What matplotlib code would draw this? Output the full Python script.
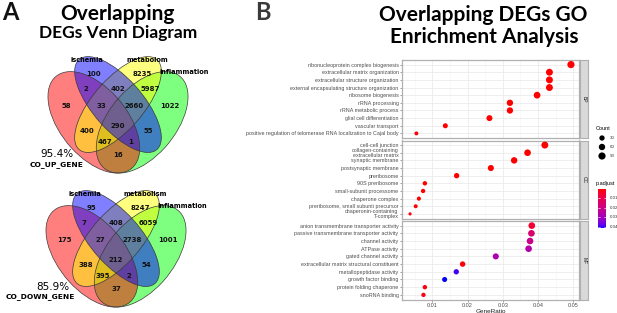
import numpy as np
import matplotlib
matplotlib.use("Agg")
import matplotlib.pyplot as plt
from matplotlib.patches import Ellipse
from matplotlib.colors import ListedColormap

W, H = 617, 313
fig = plt.figure(figsize=(W / 100, H / 100), dpi=100)
fig.patch.set_facecolor("white")

# ---------------- data ----------------
venn_sets = ["ischemia", "metabolom", "inflammation"]
venn_sets_down = ["ischemia", "metabolism", "Inflammation"]
regions = ["R", "B", "Y", "G", "RB", "BY", "YG", "RG", "RBY", "BYG", "RY", "BG", "RYG", "RBG", "RBYG"]
up_counts = [58, 100, 8235, 1022, 2, 402, 5987, 16, 33, 2660, 400, 55, 467, 1, 290]
down_counts = [175, 95, 8247, 1001, 7, 408, 6059, 37, 27, 2738, 388, 54, 395, 2, 212]
up_pct, up_name = "95.4%", "CO_UP_GENE"
down_pct, down_name = "85.9%", "CO_DOWN_GENE"

bp_terms = ["ribonucleoprotein complex biogenesis", "extracellular matrix organization",
            "extracellular structure organization", "external encapsulating structure organization",
            "ribosome biogenesis", "rRNA processing", "rRNA metabolic process",
            "glial cell differentiation", "vascular transport",
            "positive regulation of telomerase RNA localization to Cajal body"]
bp_ratio = [0.0493, 0.0432, 0.0432, 0.0432, 0.0397, 0.0320, 0.0320, 0.0262, 0.0137, 0.0055]
bp_count = [91, 80, 80, 80, 73, 59, 59, 48, 25, 10]
bp_padj = [1e-9, 1e-8, 1e-8, 1e-8, 1e-8, 1e-7, 1e-7, 1e-6, 2e-4, 5e-4]

cc_terms = ["cell-cell junction", "collagen-containing\nextracellular matrix", "synaptic membrane",
            "postsynaptic membrane", "preribosome", "90S preribosome", "small-subunit processome",
            "chaperone complex", "preribosome, small subunit precursor",
            "chaperonin-containing\nT-complex"]
cc_ratio = [0.0419, 0.0370, 0.0332, 0.0266, 0.0169, 0.0079, 0.0074, 0.0062, 0.0053, 0.0037]
cc_count = [80, 70, 63, 51, 32, 15, 14, 12, 10, 7]
cc_padj = [1e-6, 1e-6, 2e-5, 5e-5, 1e-5, 1e-6, 1e-6, 2e-4, 3e-4, 5e-4]

mf_terms = ["anion transmembrane transporter activity", "passive transmembrane transporter activity",
            "channel activity", "ATPase activity", "gated channel activity",
            "extracellular matrix structural constituent", "metallopeptidase activity",
            "growth factor binding", "protein folding chaperone", "snoRNA binding"]
mf_ratio = [0.0382, 0.0381, 0.0377, 0.0373, 0.0280, 0.0186, 0.0168, 0.0135, 0.0079, 0.0075]
mf_count = [70, 70, 69, 68, 51, 34, 31, 25, 15, 14]
mf_padj = [0.0055, 0.0160, 0.0205, 0.0260, 0.0275, 0.0008, 0.0395, 0.0412, 0.0012, 0.0015]

ontologies = ["BP", "CC", "MF"]
size_breaks = [30, 60, 90]
padj_breaks = [0.01, 0.02, 0.03, 0.04]
xticks = [0.01, 0.02, 0.03, 0.04, 0.05]


# ---------------- helpers ----------------
def rect(x0, y0, x1, y1):
    return [x0 / W, 1 - y1 / H, (x1 - x0) / W, (y1 - y0) / H]


def ftext(x, y, s, **kw):
    fig.text(x / W, 1 - y / H, s, **kw)


def srgb_to_lab(c):
    c = np.asarray(c, float)
    lin = np.where(c <= 0.04045, c / 12.92, ((c + 0.055) / 1.055) ** 2.4)
    M = np.array([[0.4124, 0.3576, 0.1805], [0.2126, 0.7152, 0.0722], [0.0193, 0.1192, 0.9505]])
    xyz = M @ lin / np.array([0.95047, 1.0, 1.08883])
    f = np.where(xyz > 0.008856, np.cbrt(xyz), 7.787 * xyz + 16 / 116)
    return np.array([116 * f[1] - 16, 500 * (f[0] - f[1]), 200 * (f[1] - f[2])])


def lab_to_srgb(lab):
    L, a, b = lab
    fy = (L + 16) / 116
    fx = fy + a / 500
    fz = fy - b / 200
    f = np.array([fx, fy, fz])
    xyz = np.where(f ** 3 > 0.008856, f ** 3, (f - 16 / 116) / 7.787) * np.array([0.95047, 1.0, 1.08883])
    Mi = np.array([[3.2406, -1.5372, -0.4986], [-0.9689, 1.8758, 0.0415], [0.0557, -0.2040, 1.0570]])
    lin = Mi @ xyz
    lin = np.clip(lin, 0, 1)
    c = np.where(lin <= 0.0031308, 12.92 * lin, 1.055 * lin ** (1 / 2.4) - 0.055)
    return np.clip(c, 0, 1)


lab_lo = srgb_to_lab([1, 0, 0])
lab_hi = srgb_to_lab([0, 0, 1])
cmap = ListedColormap([lab_to_srgb(lab_lo + (lab_hi - lab_lo) * t) for t in np.linspace(0, 1, 256)])

# ---------------- titles ----------------
TF = "Lato"
ftext(2, 12, "A", fontsize=17, fontweight="bold", family=TF, va="center", ha="left", color="#111111")
ftext(255, 12, "B", fontsize=17, fontweight="bold", family=TF, va="center", ha="left", color="#3a3a3a")
ftext(117, 14, "Overlapping", fontsize=15, fontweight="bold", family=TF, ha="center", va="center")
ftext(118, 33, "DEGs Venn Diagram", fontsize=12.5, fontweight="bold", family=TF, ha="center", va="center")
ftext(483, 15, "Overlapping DEGs GO", fontsize=15, fontweight="bold", family=TF, ha="center", va="center")
ftext(484, 37, "Enrichment Analysis", fontsize=15, fontweight="bold", family=TF, ha="center", va="center")

# ---------------- Venn diagrams ----------------
label_pos = {"R": (0.18, 0.56), "B": (0.35, 0.74), "Y": (0.65, 0.74), "G": (0.82, 0.56),
             "RB": (0.30, 0.66), "BY": (0.5, 0.655), "YG": (0.70, 0.66), "RG": (0.5, 0.285),
             "RBY": (0.40, 0.56), "BYG": (0.60, 0.56), "RY": (0.31, 0.42), "BG": (0.69, 0.42),
             "RYG": (0.42, 0.362), "RBG": (0.58, 0.362), "RBYG": (0.5, 0.449)}
# drawing order: green, red, yellow, blue
ell_geom = [((0.65, 0.47), 0.70, 0.40, 45, "#00ff00"),
            ((0.35, 0.47), 0.70, 0.40, -45, "#ff0000"),
            ((0.50, 0.57), 0.70, 0.30, 45, "#ffff00"),
            ((0.50, 0.57), 0.70, 0.30, -45, "#0000ff")]
SX, SY = 161.0, 178.0
XL, YL = (-0.2, 1.2), (0.15, 0.95)
VF = "DejaVu Sans"


def draw_venn(cx, y0, counts, names, pct, gname, pct_xy, name_xy):
    x0 = cx + SX * (XL[0] - 0.5)
    x1 = cx + SX * (XL[1] - 0.5)
    ytop = y0 - SY * YL[1]
    ybot = y0 - SY * YL[0]
    ax = fig.add_axes(rect(x0, ytop, x1, ybot))
    ax.set_xlim(*XL)
    ax.set_ylim(*YL)
    ax.axis("off")
    for (xy, w, h, ang, col) in ell_geom:
        ax.add_patch(Ellipse(xy, w, h, angle=ang, facecolor=col, alpha=0.5, edgecolor="none", clip_on=False))
    for (xy, w, h, ang, col) in ell_geom:
        ax.add_patch(Ellipse(xy, w, h, angle=ang, facecolor="none", edgecolor="#3a3a3a", lw=0.5, clip_on=False))
    for r, c in zip(regions, counts):
        u, v = label_pos[r]
        ax.text(u, v, str(c), fontsize=5.0, fontweight="bold", ha="center", va="center",
                family=VF, color="#111111")
    ax.text(0.31, 0.818, names[0], fontsize=4.8, fontweight="bold", ha="center", va="center", family=VF)
    ax.text(0.68, 0.818, names[1], fontsize=4.8, fontweight="bold", ha="center", va="center", family=VF)
    ax.text(0.91, 0.75, names[2], fontsize=4.8, fontweight="bold", ha="center", va="center", family=VF)
    ax.text(pct_xy[0], pct_xy[1], pct, fontsize=7.5, ha="center", va="center", family=VF)
    ax.text(name_xy[0], name_xy[1], gname, fontsize=5.4, fontweight="bold", ha="center", va="center",
            family=VF)


draw_venn(118, 206, up_counts, venn_sets, up_pct, up_name, (0.121, 0.29), (0.121, 0.232))
draw_venn(116, 340, down_counts, venn_sets_down, down_pct, down_name, (0.11, 0.298), (0.03, 0.242))

# ---------------- GO dot plot ----------------
all_ratio = bp_ratio + cc_ratio + mf_ratio
all_count = bp_count + cc_count + mf_count
all_padj = bp_padj + cc_padj + mf_padj
rmin, rmax = min(all_ratio), max(all_ratio)
xlim = (rmin - 0.05 * (rmax - rmin), rmax + 0.05 * (rmax - rmin))
cmin, cmax = min(all_count), max(all_count)
pmin, pmax = min(all_padj), max(all_padj)


def size_of(c):
    c = np.asarray(c, float)
    d_px = 3.2 + 4.0 * np.sqrt(np.clip((c - cmin) / (cmax - cmin), 0, 1))
    return (d_px * 72 / 100) ** 2


panels = [(bp_terms, bp_ratio, bp_count, bp_padj, 60, 138),
          (cc_terms, cc_ratio, cc_count, cc_padj, 140.5, 218.5),
          (mf_terms, mf_ratio, mf_count, mf_padj, 221, 299.5)]
PX0, PX1 = 402, 579
grid_c = "#EBEBEB"
for i, (terms, ratio, count, padj, ya, yb) in enumerate(panels):
    ax = fig.add_axes(rect(PX0, ya, PX1, yb))
    n = len(terms)
    ypos = np.arange(n)
    ax.set_xlim(*xlim)
    ax.set_ylim(n - 1 + 0.6, -0.6)
    ax.set_xticks(xticks)
    ax.set_xticks([0.005, 0.015, 0.025, 0.035, 0.045], minor=True)
    ax.set_yticks(ypos)
    ax.set_yticklabels(terms, fontsize=3.9, color="#4D4D4D", linespacing=0.85, family="Liberation Sans")
    for xv in xticks:
        ax.axvline(xv, color=grid_c, lw=0.6, zorder=0)
    for xv in [0.005, 0.015, 0.025, 0.035, 0.045]:
        ax.axvline(xv, color="#F3F3F3", lw=0.4, zorder=0)
    for yv in ypos:
        ax.axhline(yv, color=grid_c, lw=0.6, zorder=0)
    ax.scatter(ratio, ypos, s=size_of(count), c=padj, cmap=cmap, vmin=pmin, vmax=pmax,
               edgecolors="none", zorder=3)
    for sp in ax.spines.values():
        sp.set_color("#B0B0B0")
        sp.set_linewidth(0.9)
    ax.tick_params(axis="y", length=1.5, width=0.4, color="#555555", pad=1)
    ax.tick_params(axis="x", which="minor", length=0)
    if i < 2:
        ax.tick_params(axis="x", which="major", length=0, labelbottom=False)
    else:
        ax.tick_params(axis="x", which="major", length=1.5, width=0.4, color="#555555", pad=1,
                       labelsize=4.0, labelcolor="#4D4D4D")
        for lab in ax.get_xticklabels():
            lab.set_family("Liberation Sans")
        ax.set_xlabel("GeneRatio", fontsize=4.6, labelpad=0.5, family="Liberation Sans", color="#222222")
    # strip
    sax = fig.add_axes(rect(PX1 + 1, ya, 588, yb))
    sax.set_facecolor("#D9D9D9")
    sax.set_xticks([])
    sax.set_yticks([])
    for sp in sax.spines.values():
        sp.set_color("#B0B0B0")
        sp.set_linewidth(0.8)
    sax.text(0.5, 0.5, ontologies[i], rotation=-90, fontsize=3.6, ha="center", va="center",
             color="#1A1A1A", transform=sax.transAxes, family="Liberation Sans")

# legends
ftext(596, 129, "Count", fontsize=4.0, ha="left", va="center", family="Liberation Sans")
lax = fig.add_axes(rect(596, 133, 617, 161))
lax.set_xlim(0, 21)
lax.set_ylim(28, 0)
lax.axis("off")
for j, b in enumerate(size_breaks):
    lax.scatter([6], [5 + 9 * j], s=size_of(b), color="black", edgecolors="none", clip_on=False)
    lax.text(14, 5 + 9 * j, str(b), fontsize=3.2, ha="left", va="center", color="#333333",
             family="Liberation Sans")

ftext(596, 184, "p.adjust", fontsize=4.0, ha="left", va="center", family="Liberation Sans")
cax = fig.add_axes(rect(598, 189, 606, 228))
grad = np.linspace(pmin, pmax, 200).reshape(-1, 1)
cax.imshow(grad, aspect="auto", cmap=cmap, vmin=pmin, vmax=pmax,
           extent=[0, 1, pmax, pmin], origin="upper")
cax.set_xlim(0, 1)
cax.set_ylim(pmax, pmin)
cax.set_xticks([])
cax.set_yticks([])
for sp in cax.spines.values():
    sp.set_visible(False)
for pb in padj_breaks:
    cax.plot([0, 0.2], [pb, pb], color="white", lw=0.4)
    cax.plot([0.8, 1], [pb, pb], color="white", lw=0.4)
    cax.text(1.5, pb, f"{pb:.2f}", fontsize=3.2, ha="left", va="center", color="#333333",
             family="Liberation Sans", clip_on=False)

fig.savefig("out.png", dpi=100)
